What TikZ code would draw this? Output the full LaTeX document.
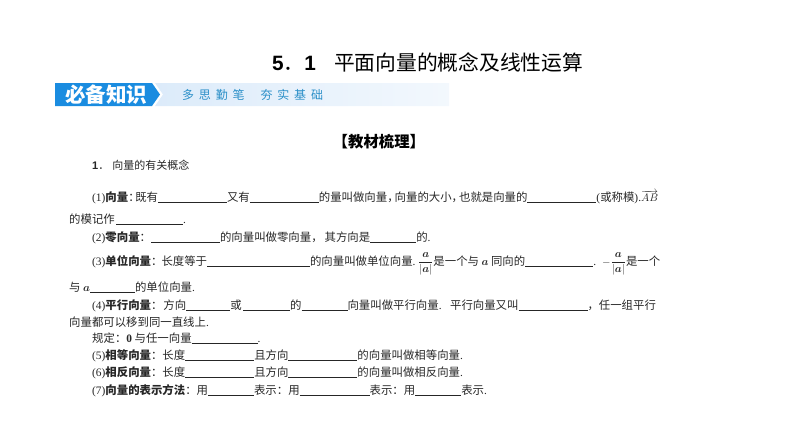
\documentclass[tikz,border=0pt]{standalone}
\usepackage{bm}
\usepackage{fontspec}
\setmainfont{Noto Sans CJK SC}
\newfontfamily\latfont{Liberation Serif}
\newfontfamily\headfont{Liberation Sans}
\newfontfamily\spreadfont[LetterSpace=40]{Noto Sans CJK SC}
\usetikzlibrary{shadings}
\usepackage{xcolor}
\definecolor{bannerblue}{HTML}{1A8CE0}
\definecolor{bannerpale}{HTML}{DCEBFA}
\definecolor{mottoblue}{HTML}{2A8FC8}
\newcommand{\blank}[1]{\rule[-2pt]{#1pt}{0.6pt}}
\newcommand{\lat}[1]{{\latfont #1}}
\newcommand{\unitfrac}{$\displaystyle\frac{\bm a}{|\bm a|}$}
\newcommand{\wcolon}{\symbol{"FF1A}}
\newcommand{\wcomma}{\symbol{"FF0C}}
\tikzset{
	bodyline/.style={anchor=base west, inner sep=0pt, font=\fontsize{11.4}{11}\selectfont, text=black!85},
}
\begin{document}
\begin{tikzpicture}[x=1pt,y=-1pt]
	\useasboundingbox (0,0) rectangle (794,447);
	% banner
	\shade[left color=bannerpale, right color=bannerpale!35] (155,83) -- (449,83) -- (449,106) -- (155,106) -- (163,94.5) -- cycle;
	\fill[bannerblue] (55,83) -- (152,83) -- (160,94.5) -- (152,106) -- (55,106) -- cycle;
	\node[anchor=base west, inner sep=0pt, text=white, font=\fontsize{20.5}{20}\selectfont\bfseries] (bannertitle) at (65,102) {必备知识};
	\node[anchor=base west, inner sep=0pt, text=mottoblue, font=\fontsize{12}{12}\spreadfont] (bannermotto) at (182,99) {多思勤笔\hspace{16pt}夯实基础};
	% headings
	\node[anchor=base west, inner sep=0pt, font=\fontsize{20.75}{20}\selectfont] (chaptertitle) at (272,70) {{\headfont\bfseries 5}．{\headfont\bfseries 1}\hspace{18pt}平面向量的概念及线性运算};
	\node[anchor=base west, inner sep=0pt, font=\fontsize{15.4}{15}\selectfont\bfseries] (sectiontitle) at (332.5,147.5) {【教材梳理】};
	\node[bodyline, font=\fontsize{11}{11}\selectfont] (itemtitle) at (92,169) {{\headfont\bfseries 1}．\hspace{3pt}向量的有关概念};
	% text lines
	\node[bodyline] (lineone) at (92,201) {\lat{(1)}\textbf{向量}\wcolon\hspace{-4.4pt}既有\blank{69}又有\blank{69}的量叫做向量\wcomma\hspace{-4pt}向量的大小\wcomma\hspace{-4pt}也就是向量的\blank{69}\lat{(}或称模\lat{)}\lat{.}$\overrightarrow{AB}$};
	\node[bodyline] (linetwo) at (69,223) {的模记作\hspace{1.4pt}\blank{67}\lat{.}};
	\node[bodyline] (linethree) at (92,241) {\lat{(2)}\textbf{零向量}\wcolon\blank{69}的向量叫做零向量\wcomma\hspace{2pt}其方向是\blank{46}的\lat{.}};
	\node[bodyline] (linefour) at (92,265) {\lat{(3)}\textbf{单位向量}\wcolon\hspace{-1pt}长度等于\blank{103}的向量叫做单位向量\lat{.}\hspace{2.5pt}\unitfrac 是一个与 $\bm a$ 同向的\blank{68}\lat{.}\hspace{6pt}$-$\unitfrac 是一个};
	\node[bodyline] (linefive) at (69,291) {与 $\bm a$\blank{45}的单位向量\lat{.}};
	\node[bodyline] (linesix) at (92,309) {\lat{(4)}\textbf{平行向量}\wcolon\hspace{1pt}方向\blank{44}或\hspace{1.5pt}\blank{47}的\blank{46}向量叫做平行向量\lat{.}\hspace{8.5pt}平行向量又叫\blank{69}\wcomma 任一组平行};
	\node[bodyline] (lineseven) at (69,326) {向量都可以移到同一直线上\lat{.}};
	\node[bodyline] (lineeight) at (92,342) {规定\wcolon\textbf{\lat{0}} 与任一向量\blank{66}\lat{.}};
	\node[bodyline] (linenine) at (92,359) {\lat{(5)}\textbf{相等向量}\wcolon 长度\blank{69}且方向\blank{69}的向量叫做相等向量\lat{.}};
	\node[bodyline] (lineten) at (92,376) {\lat{(6)}\textbf{相反向量}\wcolon 长度\blank{69}且方向\blank{69}的向量叫做相反向量\lat{.}};
	\node[bodyline] (lineeleven) at (92,394) {\lat{(7)}\textbf{向量的表示方法}\wcolon 用\blank{46}表示\wcolon 用\blank{70}表示\wcolon 用\blank{46}表示\lat{.}};
\end{tikzpicture}
\end{document}
